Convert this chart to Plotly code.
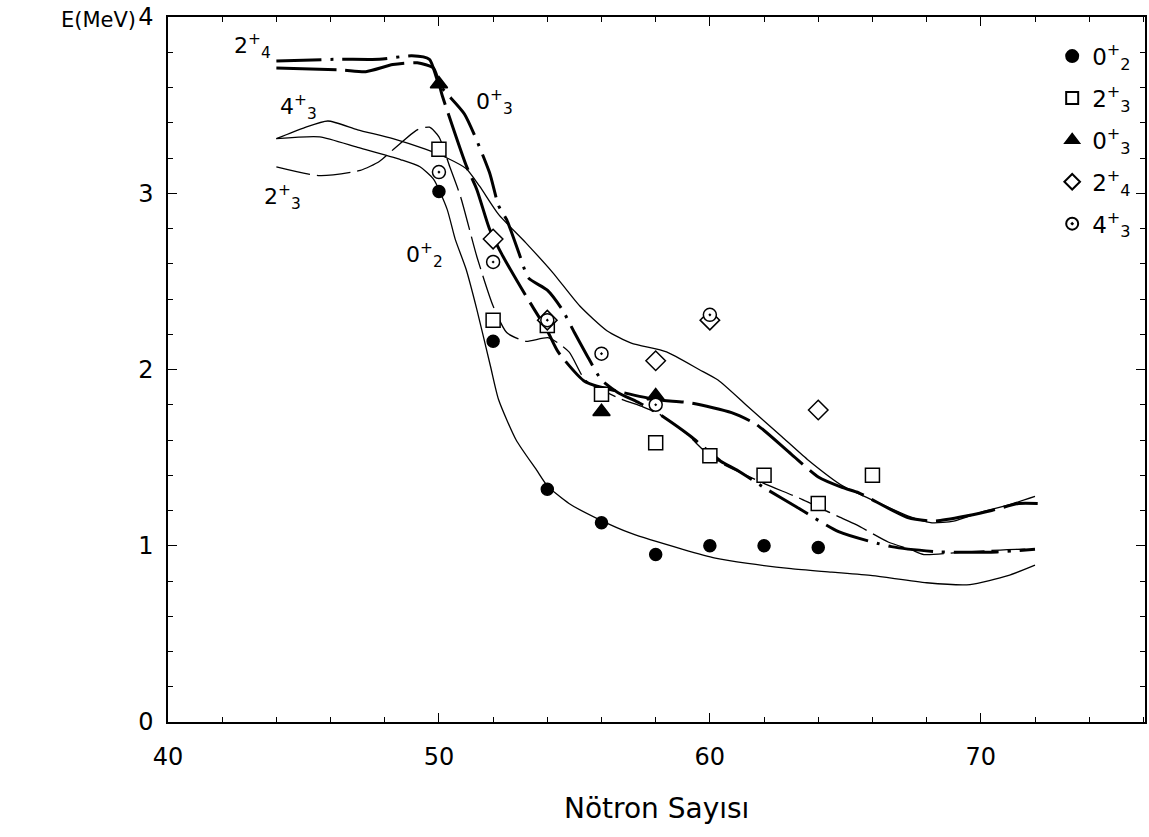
import plotly.graph_objects as go

# ---------------- measured points ----------------
n02_x = [50, 52, 54, 56, 58, 60, 62, 64]
n02_y = [3.01, 2.16, 1.32, 1.13, 0.95, 1.00, 1.00, 0.99]

n23_x = [50, 52, 54, 56, 58, 60, 62, 64, 66]
n23_y = [3.25, 2.28, 2.25, 1.86, 1.585, 1.51, 1.40, 1.24, 1.40]

n03_x = [50, 56, 58]
n03_y = [3.62, 1.76, 1.85]

n24_x = [52, 54, 58, 60, 64]
n24_y = [2.74, 2.28, 2.05, 2.28, 1.77]

n43_x = [50, 52, 54, 56, 58, 60]
n43_y = [3.12, 2.61, 2.28, 2.09, 1.80, 2.31]

# ---------------- theoretical curves ----------------
c02_x = [44, 45.6, 47.0, 48.6, 49.3, 49.8, 50.3, 50.6, 51.0, 51.4, 51.9, 52.2, 52.85, 53.6, 54.0,
         54.8, 55.9, 57.1, 59.0, 60.2, 61.4, 63.0, 64.5, 66.0, 68.0, 69.6, 71.0, 72.0]
c02_y = [3.31, 3.32, 3.26, 3.19, 3.15, 3.08, 2.91, 2.74, 2.57, 2.34, 2.02, 1.83, 1.60, 1.43, 1.34,
         1.24, 1.15, 1.07, 0.98, 0.93, 0.90, 0.87, 0.85, 0.83, 0.79, 0.78, 0.83, 0.89]

c43_x = [44, 45.0, 45.9, 47.0, 48.3, 49.5, 50.3, 51.0, 51.5, 52.2, 53.2, 54.2, 55.2, 56.2, 57.1,
         58.4, 59.6, 60.3, 61.4, 62.65, 63.6, 64.9, 66.0, 67.3, 68.2, 69.0, 70.0, 71.0, 72.0]
c43_y = [3.31, 3.37, 3.41, 3.36, 3.31, 3.25, 3.20, 3.14, 3.04, 2.88, 2.72, 2.55, 2.36, 2.22, 2.15,
         2.10, 2.00, 1.94, 1.79, 1.62, 1.49, 1.34, 1.26, 1.17, 1.13, 1.14, 1.19, 1.23, 1.28]

c23_x = [44, 45.6, 47.1, 47.8, 48.4, 49.2, 49.65, 50.0, 50.4, 50.8, 51.4, 52.0, 52.5, 53.2, 54.05,
         54.8, 55.4, 56.6, 57.5, 58.1, 59.1, 59.85, 60.4, 62.05, 63.3, 64.75, 65.4, 66.6, 67.4, 67.9,
         69.0, 70.0, 71.3, 72.0]
c23_y = [3.15, 3.10, 3.13, 3.18, 3.26, 3.36, 3.375, 3.32, 3.15, 2.98, 2.64, 2.36, 2.21, 2.16, 2.18,
         2.10, 1.94, 1.84, 1.79, 1.75, 1.64, 1.53, 1.47, 1.35, 1.27, 1.165, 1.12, 1.02, 0.98, 0.95,
         0.96, 0.97, 0.98, 0.98]

c03_x = [44, 46.2, 47.8, 49.0, 49.65, 50.0, 50.94, 51.86, 52.2, 52.5, 53.0, 53.3, 54.0, 54.55, 55.0,
         55.5, 56.0, 56.6, 57.4, 58.1, 59.3, 60.4, 61.0, 62.0, 63.2, 64.75, 66.7, 68.5, 70.6, 72.0]
c03_y = [3.75, 3.76, 3.76, 3.78, 3.76, 3.62, 3.45, 3.12, 2.93, 2.85, 2.64, 2.52, 2.45, 2.34, 2.21,
         2.07, 1.94, 1.87, 1.81, 1.75, 1.62, 1.48, 1.43, 1.33, 1.22, 1.08, 0.995, 0.965, 0.965, 0.98]

c24_x = [44, 46.4, 47.3, 48.3, 49.2, 49.8, 50.13, 51.0, 51.4, 51.86, 52.3, 53.2, 54.0, 54.4, 55.4,
         56.5, 58.0, 59.3, 60.8, 61.7, 63.0, 64.0, 64.9, 65.5, 67.3, 68.3, 69.5, 70.4, 71.4, 72.1]
c24_y = [3.71, 3.70, 3.69, 3.73, 3.74, 3.71, 3.55, 3.16, 3.02, 2.80, 2.66, 2.42, 2.22, 2.10, 1.93,
         1.88, 1.83, 1.81, 1.755, 1.69, 1.52, 1.39, 1.33, 1.30, 1.16, 1.14, 1.17, 1.20, 1.24, 1.24]

# ---------------- labels ----------------
leg_names = ["0<sup>+</sup><sub>2</sub>", "2<sup>+</sup><sub>3</sub>", "0<sup>+</sup><sub>3</sub>",
             "2<sup>+</sup><sub>4</sub>", "4<sup>+</sup><sub>3</sub>"]
lab_text = ["2<sup>+</sup><sub>4</sub>", "4<sup>+</sup><sub>3</sub>", "2<sup>+</sup><sub>3</sub>",
            "0<sup>+</sup><sub>3</sub>", "0<sup>+</sup><sub>2</sub>"]
lab_x = [43.13, 44.82, 44.24, 52.04, 49.47]
lab_y = [3.835, 3.49, 2.98, 3.52, 2.65]

FONT = "DejaVu Sans"
BLACK = "black"

fig = go.Figure()

def curve(x, y, width, dash):
    fig.add_trace(go.Scatter(x=x, y=y, mode="lines", showlegend=False, hoverinfo="skip",
                             line=dict(color=BLACK, width=width, dash=dash, shape="spline",
                                       smoothing=0.6)))

curve(c02_x, c02_y, 1.3, "solid")
curve(c43_x, c43_y, 1.3, "solid")
curve(c23_x, c23_y, 1.3, "34px,7px")
curve(c03_x, c03_y, 3.0, "45px,9px,3px,9px")
curve(c24_x, c24_y, 3.0, "60px,9px")

def points(x, y, name, symbol, size, color, group):
    fig.add_trace(go.Scatter(x=x, y=y, mode="markers", name=name, legendgroup=group,
                             marker=dict(symbol=symbol, size=size, color=color,
                                         line=dict(color=BLACK, width=1.5))))

points(n02_x, n02_y, leg_names[0], "circle", 12, BLACK, "a")
points(n23_x, n23_y, leg_names[1], "square", 14, "white", "b")
points(n03_x, n03_y, leg_names[2], "triangle-up", 15, BLACK, "c")
points(n24_x, n24_y, leg_names[3], "diamond", 15, "white", "d")
points(n43_x, n43_y, leg_names[4], "circle-dot", 13, "white", "e")

for t, x, y in zip(lab_text, lab_x, lab_y):
    fig.add_annotation(x=x, y=y, xref="x", yref="y", text=t, showarrow=False,
                       font=dict(family=FONT, size=22, color=BLACK))

fig.add_annotation(x=-0.031, y=0.9957, xref="paper", yref="paper", text="E(MeV)",
                   xanchor="right", yanchor="middle",
                   showarrow=False, font=dict(family=FONT, size=21, color=BLACK))
fig.add_annotation(x=0.5, y=-0.122, xref="paper", yref="paper", text="Nötron Sayısı",
                   xanchor="center", yanchor="middle",
                   showarrow=False, font=dict(family=FONT, size=28, color=BLACK))

axis_common = dict(showgrid=False, zeroline=False, showline=True, linecolor=BLACK, linewidth=1.5,
                   mirror="ticks", ticks="inside", ticklen=9, tickwidth=1.3, tickcolor=BLACK,
                   tickfont=dict(family=FONT, size=24, color=BLACK))

fig.update_xaxes(range=[40, 76.06], tickvals=[40, 50, 60, 70],
                 minor=dict(dtick=2, tick0=40, ticks="inside", ticklen=5, tickcolor=BLACK, tickwidth=1.2),
                 ticklabelstandoff=12, **axis_common)
fig.update_yaxes(range=[0, 4.0], tickvals=[0, 1, 2, 3, 4],
                 minor=dict(dtick=0.2, tick0=0, ticks="inside", ticklen=5, tickcolor=BLACK, tickwidth=1.2),
                 ticklabelstandoff=8, **axis_common)

fig.update_layout(
    width=1149, height=837,
    margin=dict(l=168, r=2, t=17, b=115),
    paper_bgcolor="white", plot_bgcolor="white",
    font=dict(family=FONT, color=BLACK),
    legend=dict(x=0.905, y=0.975, xanchor="left", yanchor="top", bgcolor="rgba(0,0,0,0)",
                font=dict(family=FONT, size=23, color=BLACK), tracegroupgap=9,
                itemsizing="constant"),
)

fig.write_html("out.html")
